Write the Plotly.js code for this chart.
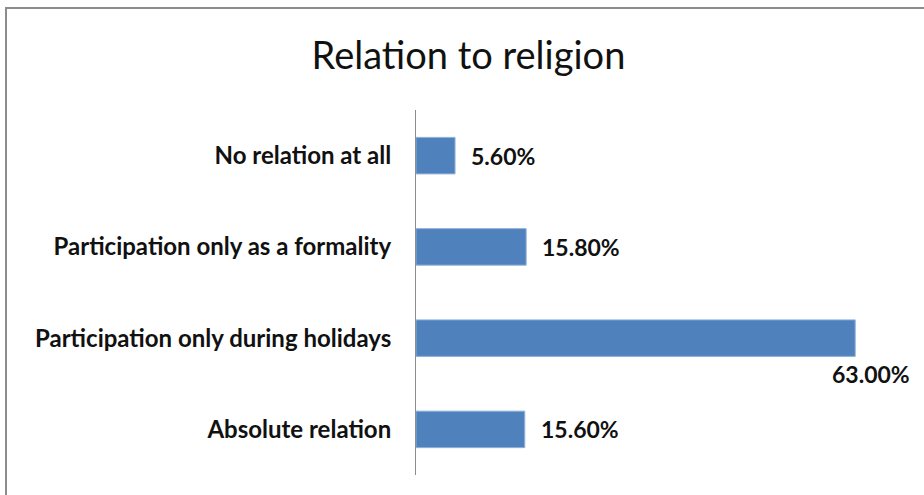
<!DOCTYPE html>
<html>
<head>
<meta charset="utf-8">
<script src="https://cdn.plot.ly/plotly-3.0.1.min.js"></script>
<style>
  html, body { margin: 0; padding: 0; background: #fff; }
  #wrap { position: relative; width: 924px; height: 495px; overflow: hidden; }
  #chart { position: absolute; left: 0; top: 0; width: 924px; height: 495px; }
  #frame { position: absolute; left: 5px; top: 7px; width: 1000px; height: 600px;
           border-top: 2px solid #8c8c8c; border-left: 2px solid #8c8c8c; pointer-events: none; }
</style>
</head>
<body>
<div id="wrap">
  <div id="chart"></div>
  <div id="frame"></div>
</div>
<script>
const categories = [
  "No relation at all",
  "Participation only as a formality",
  "Participation only during holidays",
  "Absolute relation"
];
const values = [5.6, 15.8, 63.0, 15.6];
const valueLabels = ["5.60%", "15.80%", "63.00%", "15.60%"];
const chartTitle = "Relation to religion";

const FONT = "Lato, 'Open Sans', sans-serif";
const xMax = 70;

const annotations = values.map(function (v, i) {
  const big = v > 50;
  return {
    x: v, y: categories[i], xref: "x", yref: "y",
    text: valueLabels[i], showarrow: false,
    xanchor: big ? "right" : "left",
    yanchor: "middle",
    xshift: big ? 57 : 14,
    yshift: big ? -36 : 0,
    font: { family: FONT, size: 23, color: "#111", weight: 700 }
  };
});

const trace = {
  type: "bar",
  orientation: "h",
  x: values,
  y: categories,
  marker: { color: "#4F81BD", line: { color: "#8FB0D8", width: 1 } },
  hoverinfo: "skip"
};

const layout = {
  width: 924, height: 495,
  margin: { l: 416, r: 20, t: 110, b: 20, pad: 0 },
  paper_bgcolor: "#fff", plot_bgcolor: "#fff",
  showlegend: false,
  bargap: 0.6,
  title: {
    text: chartTitle, x: 0.507, xanchor: "center", y: 0.888, yanchor: "middle",
    font: { family: FONT, size: 38, color: "#111" }
  },
  xaxis: { range: [0, xMax], visible: false, fixedrange: true },
  yaxis: {
    type: "category", autorange: "reversed",
    showline: true, linecolor: "#8c8c8c", linewidth: 1,
    showgrid: false, zeroline: false, ticks: "",
    ticklabelstandoff: 19,
    tickfont: { family: FONT, size: 24, color: "#111", weight: 700 }
  },
  annotations: annotations
};

Plotly.newPlot("chart", [trace], layout, { displayModeBar: false, staticPlot: true });
</script>
</body>
</html>
